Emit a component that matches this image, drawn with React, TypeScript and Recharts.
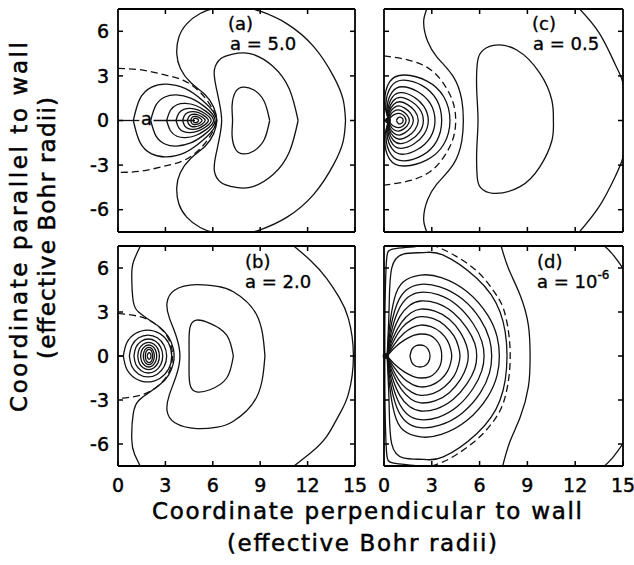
import React from 'react';
import { LineChart, Line, XAxis, YAxis, ReferenceDot } from 'recharts';

type P = [number, number];

// axis ticks, shared by all four panels
const xTicks = [0, 3, 6, 9, 12, 15];
const xTicksTop = [3, 6, 9, 12];
const yTicks = [-6, -3, 0, 3, 6];

// ---- panel (a), a = 5.0 ----
const aOuter: P[] = [[14.4, 0], [14.25, 1.4], [13.65, 2.95], [12.4, 4.95], [10.7, 6.5], [9.0, 7.35], [7.6, 7.7], [6.3, 7.6], [5.2, 7.2], [4.35, 6.5], [3.85, 5.6], [3.72, 4.5], [3.95, 3.5], [4.6, 2.55], [5.5, 1.75], [6.05, 0.9], [6.25, 0], [6.05, -0.9], [5.5, -1.75], [4.6, -2.55], [3.95, -3.5], [3.72, -4.5], [3.85, -5.6], [4.35, -6.5], [5.2, -7.2], [6.3, -7.6], [7.6, -7.7], [9.0, -7.35], [10.7, -6.5], [12.4, -4.95], [13.65, -2.95], [14.25, -1.4], [14.4, 0]];
const aKidney: P[] = [[11.4, 0], [10.85, 2.1], [9.8, 3.65], [8.35, 4.5], [7.2, 4.45], [6.5, 4.15], [6.1, 3.4], [6.2, 2.3], [6.45, 1.0], [6.56, 0], [6.45, -1.0], [6.2, -2.3], [6.1, -3.4], [6.5, -4.15], [7.2, -4.45], [8.35, -4.5], [9.8, -3.65], [10.85, -2.1], [11.4, 0]];
const aCore: P[] = [[9.6, 0], [9.25, 1.3], [8.6, 2.05], [7.95, 2.25], [7.45, 1.95], [7.22, 1.0], [7.25, 0], [7.22, -1.0], [7.45, -1.95], [7.95, -2.25], [8.6, -2.05], [9.25, -1.3], [9.6, 0]];
const aLobes: P[][] = [
  [[0.97, 0], [1.39, 1.47], [2.13, 2.25], [3.08, 2.45], [4.24, 2.16], [5.35, 1.35], [6.25, 0], [5.35, -1.35], [4.24, -2.16], [3.08, -2.45], [2.13, -2.25], [1.39, -1.47], [0.97, 0]],
  [[2.07, 0], [2.4, 1.03], [2.97, 1.58], [3.7, 1.72], [4.6, 1.51], [5.46, 0.95], [6.15, 0], [5.46, -0.95], [4.6, -1.51], [3.7, -1.72], [2.97, -1.58], [2.4, -1.03], [2.07, 0]],
  [[3.08, 0], [3.32, 0.69], [3.73, 1.06], [4.27, 1.15], [4.92, 1.01], [5.55, 0.63], [6.05, 0], [5.55, -0.63], [4.92, -1.01], [4.27, -1.15], [3.73, -1.06], [3.32, -0.69], [3.08, 0]],
  [[3.67, 0], [3.85, 0.49], [4.16, 0.75], [4.56, 0.82], [5.05, 0.72], [5.52, 0.45], [5.9, 0], [5.52, -0.45], [5.05, -0.72], [4.56, -0.82], [4.16, -0.75], [3.85, -0.49], [3.67, 0]],
  [[4.09, 0], [4.22, 0.36], [4.45, 0.55], [4.74, 0.6], [5.1, 0.53], [5.44, 0.33], [5.72, 0], [5.44, -0.33], [5.1, -0.53], [4.74, -0.6], [4.45, -0.55], [4.22, -0.36], [4.09, 0]],
  [[4.39, 0], [4.48, 0.25], [4.64, 0.39], [4.84, 0.42], [5.09, 0.37], [5.33, 0.23], [5.52, 0], [5.33, -0.23], [5.09, -0.37], [4.84, -0.42], [4.64, -0.39], [4.48, -0.25], [4.39, 0]],
  [[4.6, 0], [4.66, 0.17], [4.76, 0.26], [4.89, 0.28], [5.05, 0.25], [5.2, 0.15], [5.32, 0], [5.2, -0.15], [5.05, -0.25], [4.89, -0.28], [4.76, -0.26], [4.66, -0.17], [4.6, 0]],
  [[4.75, 0], [4.82, 0.13], [4.93, 0.15], [5.03, 0.11], [5.1, 0], [5.03, -0.11], [4.93, -0.15], [4.82, -0.13], [4.75, 0]],
];
const aDashed: P[] = [[0, 3.5], [1.5, 3.4], [2.9, 3.08], [4.1, 2.72], [5.1, 2.0], [5.8, 1.1], [6.2, 0], [5.8, -1.1], [5.1, -2.0], [4.1, -2.72], [2.9, -3.08], [1.5, -3.4], [0, -3.5]];
const aRod: P[][] = [[[0, 0], [1.35, 0]], [[2.25, 0], [4.87, 0]]];

// ---- panel (c), a = 0.5 ----
const cOuter: P[] = [[2.72, 7.6], [2.5, 6.8], [2.55, 6.0], [2.75, 5.3], [3.3, 4.3], [4.35, 2.95], [4.88, 1.38], [4.98, 0], [4.88, -1.38], [4.35, -2.95], [3.3, -4.3], [2.75, -5.3], [2.55, -6.0], [2.5, -6.8], [2.72, -7.6]];
const cKidney: P[] = [[10.63, 0], [10.53, 1.38], [9.79, 3.17], [8.33, 4.74], [6.86, 5.05], [6.1, 4.6], [5.85, 3.8], [5.82, 2.0], [5.9, 0], [5.82, -2.0], [5.85, -3.8], [6.05, -4.5], [6.86, -4.9], [8.54, -4.45], [9.79, -3.1], [10.53, -1.38], [10.63, 0]];
const cArc: P[] = [[12.1, 7.7], [13.5, 5.9], [14.5, 3.8], [14.95, 2.7], [15.2, 1.4], [15.28, 0], [15.2, -1.4], [14.95, -2.66], [14.5, -3.8], [13.5, -5.8], [12.1, -7.7]];
const cLobes: P[][] = [
  [[0.3, 0], [0.05, 1.2], [0.35, 2.6], [1.3, 3.06], [2.7, 2.65], [3.75, 1.6], [4.14, 0], [3.75, -1.6], [2.7, -2.65], [1.3, -3.06], [0.35, -2.6], [0.05, -1.2], [0.3, 0]],
  [[0.3, 0], [0.12, 1.1], [0.45, 2.3], [1.25, 2.72], [2.4, 2.35], [3.3, 1.4], [3.62, 0], [3.3, -1.4], [2.4, -2.35], [1.25, -2.72], [0.45, -2.3], [0.12, -1.1], [0.3, 0]],
  [[0.3, 0], [0.2, 0.95], [0.5, 1.9], [1.15, 2.27], [2.1, 1.95], [2.9, 1.15], [3.2, 0], [2.9, -1.15], [2.1, -1.95], [1.15, -2.27], [0.5, -1.9], [0.2, -0.95], [0.3, 0]],
  [[0.3, 0], [0.26, 0.8], [0.55, 1.6], [1.1, 1.87], [1.85, 1.6], [2.5, 0.95], [2.78, 0], [2.5, -0.95], [1.85, -1.6], [1.1, -1.87], [0.55, -1.6], [0.26, -0.8], [0.3, 0]],
  [[0.3, 0], [0.3, 0.7], [0.58, 1.33], [1.05, 1.56], [1.65, 1.33], [2.22, 0.8], [2.47, 0], [2.22, -0.8], [1.65, -1.33], [1.05, -1.56], [0.58, -1.33], [0.3, -0.7], [0.3, 0]],
  [[0.3, 0], [0.33, 0.58], [0.6, 1.08], [1.0, 1.26], [1.48, 1.07], [1.93, 0.64], [2.15, 0], [1.93, -0.64], [1.48, -1.07], [1.0, -1.26], [0.6, -1.08], [0.33, -0.58], [0.3, 0]],
  [[0.3, 0], [0.36, 0.46], [0.6, 0.84], [0.95, 0.98], [1.3, 0.83], [1.66, 0.5], [1.84, 0], [1.66, -0.5], [1.3, -0.83], [0.95, -0.98], [0.6, -0.84], [0.36, -0.46], [0.3, 0]],
  [[0.3, 0], [0.4, 0.35], [0.62, 0.62], [0.92, 0.71], [1.2, 0.6], [1.45, 0.36], [1.59, 0], [1.45, -0.36], [1.2, -0.6], [0.92, -0.71], [0.62, -0.62], [0.4, -0.35], [0.3, 0]],
  [[0.3, 0], [0.45, 0.25], [0.7, 0.43], [0.92, 0.48], [1.12, 0.42], [1.3, 0.25], [1.38, 0], [1.3, -0.25], [1.12, -0.42], [0.92, -0.48], [0.7, -0.43], [0.45, -0.25], [0.3, 0]],
  [[0.78, 0], [0.88, 0.18], [1.03, 0.22], [1.17, 0.12], [1.2, 0], [1.17, -0.12], [1.03, -0.22], [0.88, -0.18], [0.78, 0]],
];
const cDashed: P[] = [[0, 4.35], [1.6, 4.05], [2.95, 3.4], [3.85, 2.3], [4.35, 1.16], [4.5, 0], [4.35, -1.16], [3.85, -2.3], [2.95, -3.4], [1.6, -4.05], [0, -4.35]];
const cDots: P[] = [[0.25, 0]];

// ---- panel (b), a = 2.0 ----
const bOuterL: P[] = [[1.5, 7.7], [1.0, 6.5], [0.87, 5.5], [0.97, 3.7], [1.3, 3.0], [1.82, 2.57], [2.6, 2.0], [3.2, 1.3], [3.5, 0.5], [3.55, 0], [3.5, -0.5], [3.2, -1.3], [2.6, -2.0], [1.82, -2.6], [1.3, -3.05], [0.97, -3.9], [0.87, -5.7], [1.05, -6.7], [1.5, -7.7]];
const bOuterR: P[] = [[10.9, 7.7], [12.2, 6.5], [13.2, 5.3], [14.0, 4.0], [14.58, 2.57], [14.9, 0], [14.58, -2.6], [14.0, -4.0], [13.2, -5.5], [12.2, -6.6], [10.9, -7.7]];
const bKidney: P[] = [[9.3, 0], [8.78, 2.8], [7.3, 4.38], [6.3, 4.75], [4.98, 4.86], [3.6, 4.5], [3.1, 3.6], [3.25, 2.6], [3.7, 1.3], [3.92, 0], [3.7, -1.3], [3.25, -2.65], [3.1, -3.7], [3.6, -4.55], [4.98, -4.95], [6.3, -4.85], [7.3, -4.45], [8.78, -2.8], [9.3, 0]];
const bCore: P[] = [[7.3, 0], [6.88, 1.43], [5.82, 2.23], [4.98, 2.45], [4.6, 2.1], [4.5, 1.3], [4.5, 0], [4.5, -1.3], [4.6, -2.1], [4.98, -2.45], [5.82, -2.3], [6.88, -1.5], [7.3, 0]];
const bLobes: P[][] = [
  [[0.34, 0], [0.55, 0.89], [1.1, 1.53], [1.87, 1.77], [2.64, 1.53], [3.2, 0.89], [3.4, 0], [3.2, -0.89], [2.64, -1.53], [1.87, -1.77], [1.1, -1.53], [0.55, -0.89], [0.34, 0]],
  [[0.72, 0], [0.88, 0.72], [1.31, 1.24], [1.9, 1.43], [2.49, 1.24], [2.92, 0.72], [3.08, 0], [2.92, -0.72], [2.49, -1.24], [1.9, -1.43], [1.31, -1.24], [0.88, -0.72], [0.72, 0]],
  [[1.01, 0], [1.13, 0.58], [1.47, 1.0], [1.92, 1.16], [2.38, 1.0], [2.71, 0.58], [2.83, 0], [2.71, -0.58], [2.38, -1.0], [1.92, -1.16], [1.47, -1.0], [1.13, -0.58], [1.01, 0]],
  [[1.25, 0], [1.34, 0.47], [1.59, 0.8], [1.94, 0.93], [2.28, 0.8], [2.53, 0.47], [2.62, 0], [2.53, -0.47], [2.28, -0.8], [1.94, -0.93], [1.59, -0.8], [1.34, -0.47], [1.25, 0]],
  [[1.43, 0], [1.5, 0.38], [1.69, 0.65], [1.94, 0.75], [2.2, 0.65], [2.38, 0.38], [2.45, 0], [2.38, -0.38], [2.2, -0.65], [1.94, -0.75], [1.69, -0.65], [1.5, -0.38], [1.43, 0]],
  [[1.6, 0], [1.65, 0.3], [1.78, 0.51], [1.95, 0.59], [2.13, 0.51], [2.25, 0.3], [2.3, 0], [2.25, -0.3], [2.13, -0.51], [1.95, -0.59], [1.78, -0.51], [1.65, -0.3], [1.6, 0]],
  [[1.73, 0], [1.76, 0.23], [1.85, 0.39], [1.96, 0.45], [2.08, 0.39], [2.16, 0.23], [2.19, 0], [2.16, -0.23], [2.08, -0.39], [1.96, -0.45], [1.85, -0.39], [1.76, -0.23], [1.73, 0]],
  [[1.84, 0], [1.9, 0.17], [1.97, 0.22], [2.04, 0.17], [2.09, 0], [2.04, -0.17], [1.97, -0.22], [1.9, -0.17], [1.84, 0]],
];
const bDashed: P[] = [[0, 2.9], [1.39, 2.68], [2.45, 2.11], [3.18, 1.21], [3.45, 0], [3.18, -1.21], [2.45, -2.11], [1.39, -2.68], [0, -2.9]];
const bRod: P[] = [[0, 0], [0.34, 0]];

// ---- panel (d), a = 1e-6 ----
const dLobes: P[][] = [
  [[0.2, 0], [0.28, 2.0], [0.33, 3.7], [0.48, 5.98], [1.21, 6.95], [2.5, 7.05], [3.72, 6.88], [5.82, 5.3], [7.28, 3.02], [7.72, 0], [7.28, -3.02], [5.82, -5.3], [3.72, -6.88], [2.5, -7.05], [1.21, -6.95], [0.48, -5.98], [0.33, -3.7], [0.28, -2.0], [0.2, 0]],
  [[0.2, 0], [0.35, 2.0], [0.65, 3.9], [1.2, 5.05], [2.3, 5.52], [3.6, 5.35], [5.2, 4.4], [6.5, 2.8], [7.1, 1.3], [7.24, 0], [7.1, -1.3], [6.5, -2.8], [5.2, -4.4], [3.6, -5.35], [2.3, -5.52], [1.2, -5.05], [0.65, -3.9], [0.35, -2.0], [0.2, 0]],
  [[0.2, 0], [0.4, 1.8], [0.8, 3.5], [1.4, 4.5], [2.3, 4.89], [3.5, 4.72], [4.9, 3.9], [6.05, 2.5], [6.62, 1.15], [6.76, 0], [6.62, -1.15], [6.05, -2.5], [4.9, -3.9], [3.5, -4.72], [2.3, -4.89], [1.4, -4.5], [0.8, -3.5], [0.4, -1.8], [0.2, 0]],
  [[0.2, 0], [0.45, 1.6], [0.9, 3.1], [1.5, 4.0], [2.3, 4.34], [3.4, 4.18], [4.6, 3.45], [5.6, 2.2], [6.14, 1.0], [6.28, 0], [6.14, -1.0], [5.6, -2.2], [4.6, -3.45], [3.4, -4.18], [2.3, -4.34], [1.5, -4.0], [0.9, -3.1], [0.45, -1.6], [0.2, 0]],
  [[0.2, 0], [0.5, 1.4], [1.0, 2.7], [1.6, 3.45], [2.3, 3.75], [3.3, 3.6], [4.35, 2.95], [5.2, 1.9], [5.7, 0.85], [5.82, 0], [5.7, -0.85], [5.2, -1.9], [4.35, -2.95], [3.3, -3.6], [2.3, -3.75], [1.6, -3.45], [1.0, -2.7], [0.5, -1.4], [0.2, 0]],
  [[0.2, 0], [0.55, 1.2], [1.1, 2.3], [1.7, 2.95], [2.3, 3.2], [3.2, 3.06], [4.1, 2.5], [4.8, 1.6], [5.18, 0.72], [5.29, 0], [5.18, -0.72], [4.8, -1.6], [4.1, -2.5], [3.2, -3.06], [2.3, -3.2], [1.7, -2.95], [1.1, -2.3], [0.55, -1.2], [0.2, 0]],
  [[0.2, 0], [0.6, 1.0], [1.15, 1.95], [1.75, 2.48], [2.3, 2.68], [3.1, 2.55], [3.8, 2.1], [4.4, 1.35], [4.68, 0.6], [4.77, 0], [4.68, -0.6], [4.4, -1.35], [3.8, -2.1], [3.1, -2.55], [2.3, -2.68], [1.75, -2.48], [1.15, -1.95], [0.6, -1.0], [0.2, 0]],
  [[0.2, 0], [0.65, 0.8], [1.25, 1.55], [1.8, 1.95], [2.3, 2.11], [2.95, 2.0], [3.55, 1.62], [3.98, 1.05], [4.18, 0.48], [4.25, 0], [4.18, -0.48], [3.98, -1.05], [3.55, -1.62], [2.95, -2.0], [2.3, -2.11], [1.8, -1.95], [1.25, -1.55], [0.65, -0.8], [0.2, 0]],
  [[0.2, 0], [0.7, 0.6], [1.3, 1.1], [1.85, 1.4], [2.3, 1.5], [2.85, 1.42], [3.25, 1.12], [3.5, 0.72], [3.6, 0.33], [3.62, 0], [3.6, -0.33], [3.5, -0.72], [3.25, -1.12], [2.85, -1.42], [2.3, -1.5], [1.85, -1.4], [1.3, -1.1], [0.7, -0.6], [0.2, 0]],
  [[1.63, 0], [1.75, 0.45], [2.0, 0.7], [2.26, 0.75], [2.52, 0.7], [2.77, 0.45], [2.89, 0], [2.77, -0.45], [2.52, -0.7], [2.26, -0.75], [2.0, -0.7], [1.75, -0.45], [1.63, 0]],
];
const dWall: P[] = [[3.8, 7.8], [2.2, 7.5], [0.6, 7.3], [0.15, 6.4], [0.06, 3.0], [0.05, 0], [0.06, -3.0], [0.15, -6.4], [0.6, -7.3], [2.2, -7.5], [3.8, -7.8]];
const dBig: P[] = [[7.3, 7.7], [7.8, 6.0], [8.54, 4.16], [9.06, 2.11], [9.17, 0], [9.06, -2.11], [8.54, -4.2], [7.9, -5.85], [7.4, -7.7]];
const dCornerTop: P[] = [[13.4, 7.9], [14.3, 7.0], [15.3, 5.5]];
const dCornerBot: P[] = [[15.3, -5.5], [14.3, -7.0], [13.4, -7.9]];
const dDashed: P[] = [[3.0, 7.6], [4.2, 7.0], [5.82, 5.8], [6.9, 4.4], [7.49, 3.25], [7.82, 1.6], [7.92, 0], [7.82, -1.6], [7.49, -3.2], [6.9, -4.4], [5.82, -5.7], [4.2, -6.95], [3.0, -7.5]];
const dDots: P[] = [[0.1, 0]];

const FONT = "'DejaVu Sans', sans-serif";
const INK = '#111';
const rows = (pts: P[]) => pts.map(([x, y]) => ({ x, y }));

type PanelProps = {
  left: number; top: number; w: number; h: number;
  solid: P[][]; dashed: P[][]; dots?: P[];
  showX: boolean; showY: boolean;
};

function Panel({ left, top, w, h, solid, dashed, dots = [], showX, showY }: PanelProps) {
  const LW = 60; // room for y tick labels
  const BH = 40; // room for x tick labels
  const RM = 20; // so the "15" label is not cut off
  const tickText = { fontSize: 19, fill: '#000', fontFamily: FONT, stroke: '#000', strokeWidth: 0.45 };
  const axisLine = { stroke: '#000', strokeWidth: 1.8 };
  const tickLine = { stroke: '#000', strokeWidth: 1.5 };
  const blank = () => '';
  return (
    <div style={{ position: 'absolute', left: left - LW, top: top - 1 }}>
      <LineChart width={LW + w + 1 + RM} height={1 + h + BH} margin={{ top: 0, right: RM, bottom: 0, left: 0 }}>
        <XAxis xAxisId="b" dataKey="x" type="number" orientation="bottom" domain={[0, 15]} allowDataOverflow
          ticks={xTicks} interval={0} height={BH} tickSize={-5} tickMargin={18}
          axisLine={axisLine} tickLine={tickLine} tick={tickText} tickFormatter={showX ? undefined : blank} />
        <XAxis xAxisId="t" dataKey="x" type="number" orientation="top" domain={[0, 15]} allowDataOverflow
          ticks={xTicksTop} interval={0} height={1} tickSize={-5} axisLine={axisLine} tickLine={tickLine} tickFormatter={blank} />
        <YAxis yAxisId="l" type="number" orientation="left" domain={[-7.5, 7.5]} allowDataOverflow
          ticks={yTicks} interval={0} width={LW} tickSize={-5} tickMargin={14}
          axisLine={axisLine} tickLine={tickLine} tick={tickText} tickFormatter={showY ? undefined : blank} />
        <YAxis yAxisId="r" type="number" orientation="right" domain={[-7.5, 7.5]} allowDataOverflow
          ticks={yTicks} interval={0} width={1} tickSize={-5} axisLine={axisLine} tickLine={tickLine} tickFormatter={blank} />
        {solid.map((pts, i) => (
          <Line key={'s' + i} data={rows(pts)} dataKey="y" xAxisId="b" yAxisId="l" type="natural"
            stroke={INK} strokeWidth={1.3} dot={false} activeDot={false} isAnimationActive={false} />
        ))}
        {dashed.map((pts, i) => (
          <Line key={'d' + i} data={rows(pts)} dataKey="y" xAxisId="b" yAxisId="l" type="natural"
            stroke={INK} strokeWidth={1.3} strokeDasharray="7 4" dot={false} activeDot={false} isAnimationActive={false} />
        ))}
        {dots.map(([x, y], i) => (
          <ReferenceDot key={'p' + i} x={x} y={y} xAxisId="b" yAxisId="l" r={3} fill={INK} stroke="none" />
        ))}
      </LineChart>
    </div>
  );
}

export default function App() {
  const label = { fontFamily: FONT, fontSize: 18, fill: '#000', stroke: '#000', strokeWidth: 0.35 };
  const title = { fontFamily: FONT, fontSize: 23, fill: '#000', stroke: '#000', strokeWidth: 0.5 };
  return (
    <div style={{ position: 'absolute', left: 0, top: 0, width: 634, height: 565, background: '#fff', overflow: 'hidden' }}>
      <Panel left={118} top={9} w={237} h={223} showX={false} showY
        solid={[aOuter, aKidney, aCore, ...aLobes, ...aRod]} dashed={[aDashed]} />
      <Panel left={384} top={9} w={239} h={223} showX={false} showY={false}
        solid={[cOuter, cKidney, cArc, ...cLobes]} dashed={[cDashed]} dots={cDots} />
      <Panel left={118} top={246} w={237} h={220} showX showY
        solid={[bOuterL, bOuterR, bKidney, bCore, ...bLobes, bRod]} dashed={[bDashed]} />
      <Panel left={384} top={246} w={239} h={220} showX showY={false}
        solid={[...dLobes, dWall, dBig, dCornerTop, dCornerBot]} dashed={[dDashed]} dots={dDots} />
      <svg width={634} height={565} style={{ position: 'absolute', left: 0, top: 0, pointerEvents: 'none' }}>
        <text x={228} y={30} {...label}>(a)</text>
        <text x={230} y={50} {...label}>a = 5.0</text>
        <text x={146.5} y={125} textAnchor="middle" {...label}>a</text>
        <text x={532} y={30} {...label}>(c)</text>
        <text x={533} y={50} {...label}>a = 0.5</text>
        <text x={245} y={268} {...label}>(b)</text>
        <text x={245} y={288} {...label}>a = 2.0</text>
        <text x={537} y={268} {...label}>(d)</text>
        <text x={537} y={288} {...label}>a = 10<tspan fontSize={12} dy={-9}>-6</tspan></text>
        <text transform="translate(27,227) rotate(-90)" textAnchor="middle" textLength={370} lengthAdjust="spacing" {...title}>Coordinate parallel to wall</text>
        <text transform="translate(55,228) rotate(-90)" textAnchor="middle" textLength={262} lengthAdjust="spacing" {...title}>(effective Bohr radii)</text>
        <text x={367} y={519} textAnchor="middle" textLength={430} lengthAdjust="spacing" {...title}>Coordinate perpendicular to wall</text>
        <text x={362} y={551} textAnchor="middle" textLength={270} lengthAdjust="spacing" {...title}>(effective Bohr radii)</text>
      </svg>
    </div>
  );
}
